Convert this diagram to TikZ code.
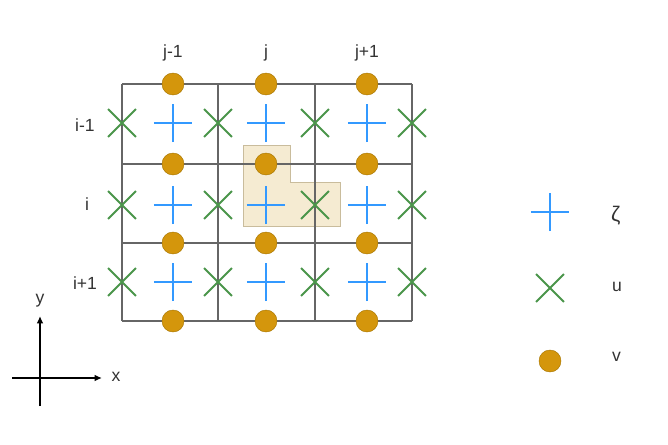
\documentclass[tikz,border=0pt]{standalone}
\usepackage{fontspec}
\setmainfont{Liberation Sans}
\usepackage{tikz}
\usetikzlibrary{arrows.meta,shapes.misc}
\definecolor{gridgray}{HTML}{666666}
\definecolor{zblue}{HTML}{3399FF}
\definecolor{ugreen}{HTML}{4A954A}
\definecolor{vfill}{HTML}{D4960C}
\definecolor{vedge}{HTML}{A87600}
\definecolor{hlfill}{HTML}{F5EBD2}
\definecolor{hledge}{HTML}{C9BC9C}

\begin{document}
\begin{tikzpicture}[x=0.03cm,y=-0.03cm,
gridline/.style={draw=gridgray,line width=1.1pt},
vdot/.style={circle,draw=vedge,line width=0.4pt,fill=vfill,minimum size=0.66cm,inner sep=0pt},
zmark/.style={cross out,rotate=45,draw=zblue,line width=1.6pt,minimum size=0.76cm,inner sep=0pt},
umark/.style={cross out,draw=ugreen,line width=1.6pt,minimum size=0.78cm,inner sep=0pt},
lbl/.style={font=\fontsize{15}{17}\selectfont,text=black!80},
axis/.style={line width=1.3pt,-{Latex[length=2.2mm,width=2mm]}}
]
\useasboundingbox (0,0) rectangle (668,444);
% stencil around the zeta point
\filldraw[fill=hlfill,draw=hledge,line width=0.8pt]
  (243,145) -- (290,145) -- (290,182) -- (340,182) -- (340,226) -- (243,226) -- cycle;
% grid cells
\foreach \gx in {122,218,315,412}
  \draw[gridline] (\gx,84) -- (\gx,321);
\foreach \gy in {84,164,243,321}
  \draw[gridline] (122,\gy) -- (412,\gy);
% v points on the horizontal edges
\foreach \cx [count=\c] in {173,266,367}
  \foreach \ry [count=\r] in {84,164,243,321}
    \node[vdot] (v\c\r) at (\cx,\ry) {};
% zeta points at cell centres
\foreach \cx [count=\c] in {173,266,367}
  \foreach \py [count=\r] in {123,205,282}
    \node[zmark] (z\c\r) at (\cx,\py) {};
% u points on the vertical edges
\foreach \ux [count=\c] in {122,218,315,412}
  \foreach \py [count=\r] in {123,205,282}
    \node[umark] (u\c\r) at (\ux,\py) {};
% indices
\node[lbl] (jm) at (173,53) {j-1};
\node[lbl] (jc) at (266,53) {j};
\node[lbl] (jp) at (367,53) {j+1};
\node[lbl] (im) at (85,125) {i-1};
\node[lbl] (ic) at (87,204) {i};
\node[lbl] (ip) at (85,283) {i+1};
% axes
\coordinate (o) at (40,378);
\coordinate (ytip) at (40,316);
\coordinate (ybot) at (40,406);
\coordinate (xtip) at (102,378);
\coordinate (xbot) at (12,378);
\draw[line width=1.3pt] (ybot) -- (o);
\draw[line width=1.3pt] (xbot) -- (o);
\draw[axis] (o) -- (ytip);
\draw[axis] (o) -- (xtip);
\node[lbl] (ylbl) at (40,301) {y};
\node[lbl] (xlbl) at (116,377) {x};
% legend
\node[zmark] (kz) at (550,212) {};
\node[umark] (ku) at (550,288) {};
\node[vdot] (kv) at (550,361) {};
\node[lbl,font=\fontsize{18}{20}\selectfont,anchor=west] (kzl) at (607,216) {ζ};
\node[lbl,anchor=west] (kul) at (608,287) {u};
\node[lbl,anchor=west] (kvl) at (608,357) {v};
\end{tikzpicture}
\end{document}
